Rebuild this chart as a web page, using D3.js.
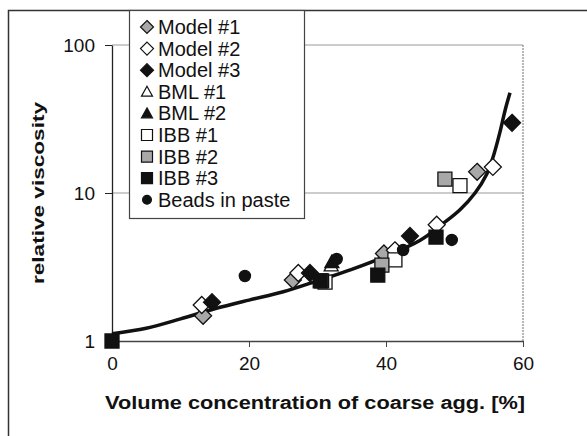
<!DOCTYPE html>
<html>
<head>
<meta charset="utf-8">
<script src="https://cdn.jsdelivr.net/npm/d3@7"></script>
<style>
  body { margin: 0; background: #fff; }
  text { font-family: "Liberation Sans", Arial, sans-serif; }
</style>
</head>
<body>
<script>
// data
var model1 = [[13.3, 1.48], [26.4, 2.58], [39.7, 3.9], [53.3, 13.9]];
var model2 = [[13.1, 1.75], [27.2, 2.88], [41.3, 4.1], [47.4, 6.1], [55.6, 15.0]];
var model3 = [[14.6, 1.83], [28.9, 2.88], [43.5, 5.12], [58.4, 29.8]];
var bml1 = [[32.0, 3.25]];
var bml2 = [[32.1, 3.42]];
var ibb1 = [[31.1, 2.5], [41.3, 3.53], [50.8, 11.2]];
var ibb2 = [[30.6, 2.55], [39.4, 3.26], [48.6, 12.4]];
var ibb3 = [[0, 1.0], [30.4, 2.55], [38.8, 2.79], [47.3, 5.04]];
var beads = [[19.4, 2.75], [32.8, 3.58], [42.5, 4.12], [49.6, 4.82]];

// fitted curve, read at points along the line
var fitX = [0, 5, 10, 15, 20, 25, 30, 35, 40, 45, 48.3, 50.8, 53.0, 54.7, 55.6, 56.6, 57.4, 58.1];
var fitY = [1.12, 1.22, 1.41, 1.65, 1.89, 2.15, 2.55, 3.05, 3.75, 4.8, 6.2, 7.7, 10, 13.4, 17.3, 25.4, 36.4, 47.5];

var xTicks = [0, 20, 40, 60];
var yTicks = [1, 10, 100];

var series = [
    {name: "Model #1", pts: model1, shape: "diamond", fill: "#a8a8a8"},
    {name: "Model #2", pts: model2, shape: "diamond", fill: "#fff"},
    {name: "Model #3", pts: model3, shape: "diamond", fill: "#111"},
    {name: "BML #1", pts: bml1, shape: "triangle", fill: "#fff"},
    {name: "BML #2", pts: bml2, shape: "triangle", fill: "#111"},
    {name: "IBB #1", pts: ibb1, shape: "square", fill: "#fff"},
    {name: "IBB #2", pts: ibb2, shape: "square", fill: "#a8a8a8"},
    {name: "IBB #3", pts: ibb3, shape: "square", fill: "#111"},
    {name: "Beads in paste", pts: beads, shape: "circle", fill: "#111"}
];

var W = 587, H = 436;
var plot = {left: 112, right: 523, top: 45, bottom: 341};

var svg = d3.select("body").append("svg")
    .attr("width", W).attr("height", H);

// outer frame
svg.append("rect")
    .attr("x", 8.5).attr("y", 10.5)
    .attr("width", 620).attr("height", 500)
    .style("fill", "none").style("stroke", "#333").style("stroke-width", 1.5);

var x = d3.scaleLinear().domain([0, 60]).range([plot.left, plot.right]);
var y = d3.scaleLog().domain([1, 100]).range([plot.bottom, plot.top]);

// gridlines + plot border
svg.append("g").selectAll("line").data(yTicks.slice(1)).enter().append("line")
    .attr("x1", plot.left).attr("x2", plot.right)
    .attr("y1", d => y(d)).attr("y2", d => y(d))
    .style("stroke", "#999").style("stroke-width", 1);
svg.append("line")
    .attr("x1", plot.right).attr("x2", plot.right)
    .attr("y1", plot.top).attr("y2", plot.bottom)
    .style("stroke", "#888").style("stroke-width", 1.2).style("stroke-dasharray", "2,1");

// x axis
var xAxis = svg.append("g")
    .attr("transform", "translate(0," + plot.bottom + ")")
    .call(d3.axisBottom(x).tickValues(xTicks).tickSize(6).tickSizeOuter(0).tickPadding(10));
xAxis.select(".domain").style("stroke", "#444").style("stroke-width", 1.5);
xAxis.selectAll("line").style("stroke", "#444");
xAxis.selectAll("text").style("font-size", "19px").style("fill", "#111")
    .attr("font-family", null);

// y axis
var yAxis = svg.append("g")
    .attr("transform", "translate(" + plot.left + ",0)")
    .call(d3.axisLeft(y).tickValues(yTicks).tickFormat(d3.format("d")).tickSize(7).tickSizeOuter(0).tickPadding(10));
yAxis.select(".domain").style("stroke", "#222").style("stroke-width", 1.3);
yAxis.selectAll("line").style("stroke", "#222");
yAxis.selectAll("text").style("font-size", "19px").style("fill", "#111")
    .attr("font-family", null);

// axis titles
svg.append("text")
    .attr("x", 315).attr("y", 409)
    .attr("text-anchor", "middle")
    .attr("textLength", 420).attr("lengthAdjust", "spacingAndGlyphs")
    .style("font-size", "18px").style("font-weight", "bold").style("fill", "#111")
    .text("Volume concentration of coarse agg. [%]");
svg.append("text")
    .attr("transform", "translate(44,193) rotate(-90)")
    .attr("text-anchor", "middle")
    .attr("textLength", 182).attr("lengthAdjust", "spacingAndGlyphs")
    .style("font-size", "17px").style("font-weight", "bold").style("fill", "#111")
    .text("relative viscosity");

// fitted curve
var line = d3.line()
    .x(d => x(d[0])).y(d => y(d[1]))
    .curve(d3.curveCatmullRom.alpha(0.5));
svg.append("path")
    .datum(d3.zip(fitX, fitY))
    .attr("d", line)
    .style("fill", "none").style("stroke", "#111").style("stroke-width", 3.5);

function markerPath(shape, s) {
    var h = s / 2;
    if (shape == "diamond") return "M0," + (-h) + "L" + h + ",0L0," + h + "L" + (-h) + ",0Z";
    if (shape == "square") return "M" + (-h) + "," + (-h) + "h" + s + "v" + s + "h" + (-s) + "Z";
    if (shape == "triangle") return "M0," + (-h) + "L" + h + "," + (h * 0.8) + "L" + (-h) + "," + (h * 0.8) + "Z";
    // circle
    return d3.arc()({innerRadius: 0, outerRadius: h * 0.8, startAngle: 0, endAngle: 2 * Math.PI});
}
var markerSize = {diamond: 17, square: 14, triangle: 14, circle: 14};

// markers
series.forEach(function(s) {
    svg.append("g").selectAll("path").data(s.pts).enter().append("path")
        .attr("transform", d => "translate(" + x(d[0]) + "," + y(d[1]) + ")")
        .attr("d", markerPath(s.shape, markerSize[s.shape]))
        .style("fill", s.fill).style("stroke", "#111").style("stroke-width", 1.3);
});

// legend
var legend = svg.append("g");
legend.append("rect")
    .attr("x", 129.5).attr("y", 10.5).attr("width", 175).attr("height", 208)
    .style("fill", "#fff").style("stroke", "#444").style("stroke-width", 1.2);
var rows = legend.selectAll("g.row").data(series).enter().append("g")
    .attr("transform", (d, i) => "translate(0," + (27 + i * 21.6) + ")");
rows.append("path")
    .attr("transform", "translate(147,0)")
    .attr("d", d => markerPath(d.shape, d.shape == "diamond" ? 13 : 11))
    .style("fill", d => d.fill).style("stroke", "#111").style("stroke-width", 1.2);
rows.append("text")
    .attr("x", 158).attr("y", 7)
    .style("font-size", "20px").style("fill", "#111")
    .text(d => d.name);
</script>
</body>
</html>
